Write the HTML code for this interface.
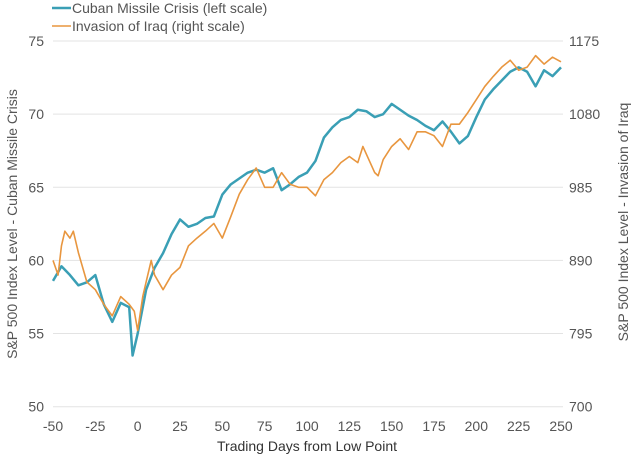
<!DOCTYPE html>
<html><head><meta charset="utf-8"><style>
body{margin:0;background:#fff;}
svg{font-family:"Liberation Sans",sans-serif;display:block}
</style></head><body>
<svg id="chart" width="640" height="460">
<g id="grid"></g>
<g id="ticks"></g>
<g id="series"></g>
<g>
<line x1="52" y1="8" x2="71" y2="8" stroke="#3a9fb5" stroke-width="2.5"/>
<text x="72" y="13" font-size="14" fill="#555">Cuban Missile Crisis (left scale)</text>
<line x1="52" y1="26" x2="71" y2="26" stroke="#e8963f" stroke-width="1.5"/>
<text x="72" y="31" font-size="14" fill="#555">Invasion of Iraq (right scale)</text>
</g>
<text transform="translate(17,224) rotate(-90)" text-anchor="middle" font-size="14" fill="#555">S&amp;P 500 Index Level - Cuban Missile Crisis</text>
<text transform="translate(628,222) rotate(-90)" text-anchor="middle" font-size="14" fill="#555">S&amp;P 500 Index Level - Invasion of Iraq</text>
<text x="307" y="451" text-anchor="middle" font-size="14" fill="#333">Trading Days from Low Point</text>
</svg>
<script>
const cubanDays=[-50,-45,-40,-35,-30,-25,-20,-15,-10,-5,-3,0,5,10,15,20,25,30,35,40,45,50,55,60,65,70,75,80,85,90,95,100,105,110,115,120,125,130,135,140,145,150,155,160,165,170,175,180,185,190,195,200,205,210,215,220,225,230,235,240,245,250];
const cubanValues=[58.6,59.6,59.0,58.3,58.5,59.0,57.0,55.8,57.1,56.8,53.5,55.0,58.0,59.5,60.5,61.8,62.8,62.3,62.5,62.9,63.0,64.5,65.2,65.6,66.0,66.2,66.0,66.3,64.8,65.2,65.7,66.0,66.8,68.4,69.1,69.6,69.8,70.3,70.2,69.8,70.0,70.7,70.3,69.9,69.6,69.2,68.9,69.5,68.8,68.0,68.5,69.8,71.0,71.7,72.3,72.9,73.2,72.9,71.9,73.0,72.6,73.2];
const iraqDays=[-50,-47,-45,-43,-40,-38,-35,-30,-25,-20,-15,-10,-5,-2,0,3,5,8,10,15,20,25,30,35,40,45,50,55,60,65,70,75,80,85,90,95,100,105,110,115,120,125,130,133,140,142,145,150,155,160,165,170,175,180,185,190,195,200,205,210,215,220,225,230,235,240,245,250];
const iraqValues=[890,871,909,928,919,928,900,862,852,833,818,843,833,824,799,843,862,890,871,852,871,881,909,919,928,938,919,947,976,995,1010,985,985,1004,989,985,985,974,995,1004,1017,1025,1017,1038,1004,1000,1021,1038,1048,1034,1057,1057,1052,1038,1067,1067,1082,1099,1116,1129,1141,1150,1137,1141,1156,1145,1154,1148];
const xTicks=[-50,-25,0,25,50,75,100,125,150,175,200,225,250];
const leftTicks=[50,55,60,65,70,75];
const rightTicks=[700,795,890,985,1080,1175];
const NS="http://www.w3.org/2000/svg";
const x=d=>53+(d+50)*(508/300);
const yL=v=>406.7-(v-50)*(365.7/25);
const yR=v=>406.7-(v-700)*(365.7/475);
const grid=document.getElementById('grid'),ticks=document.getElementById('ticks'),series=document.getElementById('series');
function mk(tag,attrs,parent,txt){const e=document.createElementNS(NS,tag);for(const k in attrs)e.setAttribute(k,attrs[k]);if(txt!==undefined)e.textContent=txt;parent.appendChild(e);return e;}
leftTicks.forEach((t,i)=>{
 const g=mk('line',{x1:53,x2:563,y1:yL(t),y2:yL(t),stroke:'#e3e3e3','stroke-width':1},grid);
 
 
 const a=mk('text',{x:44,y:yL(t)+5,'text-anchor':'end','font-size':14,fill:'#555'},ticks,t);
 
 
 const b=mk('text',{x:569,y:yR(rightTicks[i])+5,'font-size':14,fill:'#555'},ticks,rightTicks[i]);
 
 
});
xTicks.forEach(t=>{
 const e=mk('text',{x:x(t),y:431,'text-anchor':'middle','font-size':14,fill:'#555'},ticks,t);
 
 
});
const p1=mk('polyline',{points:cubanDays.map((d,i)=>x(d)+','+yL(cubanValues[i])).join(' '),fill:'none',stroke:'#3a9fb5','stroke-width':2.5,'stroke-linejoin':'round'},series);


const p2=mk('polyline',{points:iraqDays.map((d,i)=>x(d)+','+yR(iraqValues[i])).join(' '),fill:'none',stroke:'#e8963f','stroke-width':1.6,'stroke-linejoin':'round'},series);


</script>
</body></html>
